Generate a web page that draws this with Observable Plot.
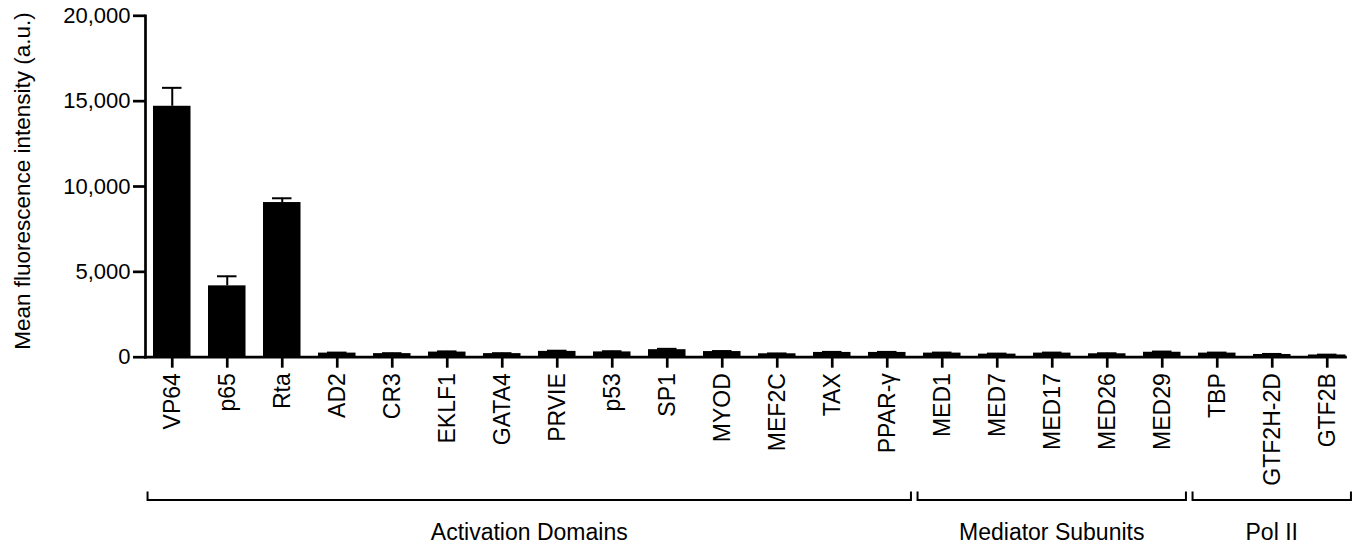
<!DOCTYPE html>
<html><head><meta charset="utf-8">
<script src="https://cdn.jsdelivr.net/npm/d3@7"></script>
<script src="https://cdn.jsdelivr.net/npm/@observablehq/plot@0.6"></script>
<style>body{margin:0;background:#fff} svg{display:block}</style>
</head><body><div id="chart"></div>
<script>
const categories = ["VP64","p65","Rta","AD2","CR3","EKLF1","GATA4","PRVIE","p53","SP1","MYOD","MEF2C","TAX","PPAR-γ","MED1","MED7","MED17","MED26","MED29","TBP","GTF2H-2D","GTF2B"];
const means = [14700,4180,9060,240,210,300,210,340,310,440,330,200,280,280,240,180,240,200,290,240,160,130];
const errors = [1080,560,250,30,25,40,25,40,40,50,30,20,30,30,30,30,30,30,40,30,30,20];
const groupNames = ["Activation Domains","Mediator Subunits","Pol II"];
const categoryGroup = [0,0,0,0,0,0,0,0,0,0,0,0,0,0,1,1,1,1,1,2,2,2];
const yTicks = [0,5000,10000,15000,20000];
const yLabel = "Mean fluorescence intensity (a.u.)";

const data = categories.map((name,i)=>({name, mean: means[i], err: errors[i]}));
const font = "'Liberation Sans', Arial, Helvetica, sans-serif";

const plot = Plot.plot({
  width: 1359, height: 548,
  marginLeft: 145, marginRight: 14, marginTop: 15.3, marginBottom: 191.3,
  style: {fontFamily: font, background: "white", color: "black"},
  x: {type: "band", domain: categories, range: [153, 1345.5], paddingInner: 0.318, paddingOuter: 0, round: false},
  y: {domain: [0, 20000]},
  marks: [
    Plot.barY(data, {x: "name", y: "mean", fill: "black"}),
    Plot.ruleX(data, {x: "name", y1: "mean", y2: d => d.mean + d.err, stroke: "black", strokeWidth: 2}),
    Plot.tickY(data, {x: "name", y: d => d.mean + d.err, stroke: "black", strokeWidth: 2, insetLeft: 9, insetRight: 9}),
    Plot.axisY({ticks: yTicks, tickFormat: d3.format(","), tickSize: 12, tickPadding: 3, fontSize: 22, label: null, strokeWidth: 2.7}),
    Plot.axisX({tickRotate: -90, tickSize: 11, tickPadding: 5, fontSize: 23, label: null, strokeWidth: 2.7}),
    Plot.frame({anchor: "left", strokeWidth: 2.7}),
    Plot.frame({anchor: "bottom", strokeWidth: 2.7})
  ]
});
document.getElementById("chart").appendChild(plot);

const svg = d3.select(plot);
const xs = plot.scale("x");
const ys = plot.scale("y");
const bw = xs.bandwidth, step = xs.step;
const center = c => xs.apply(c) + bw / 2;

const bracketY = 500, bracketH = 8.5, labelY = 540;
const g = svg.append("g").attr("fill", "none").attr("stroke", "black").attr("stroke-width", 2);
groupNames.forEach((name, gi) => {
  const members = categories.filter((c, i) => categoryGroup[i] === gi);
  const x0 = center(members[0]) - 0.44 * step;
  const x1 = center(members[members.length - 1]) + 0.44 * step;
  g.append("path").attr("d", `M${x0},${bracketY - bracketH}V${bracketY}H${x1}V${bracketY - bracketH}`);
  svg.append("text")
    .attr("x", (center(members[0]) + center(members[members.length - 1])) / 2)
    .attr("y", labelY)
    .attr("text-anchor", "middle")
    .attr("font-family", font)
    .attr("font-size", 23)
    .attr("fill", "black")
    .text(name);
});
const yMid = (ys.apply(0) + ys.apply(20000)) / 2 - 5;
svg.append("text")
  .attr("transform", `translate(22.5,${yMid}) rotate(-90)`)
  .attr("text-anchor", "middle")
  .attr("dy", "0.35em")
  .attr("font-family", font)
  .attr("font-size", 22.5)
  .attr("fill", "#000")
  .text(yLabel);
</script>
</body></html>
